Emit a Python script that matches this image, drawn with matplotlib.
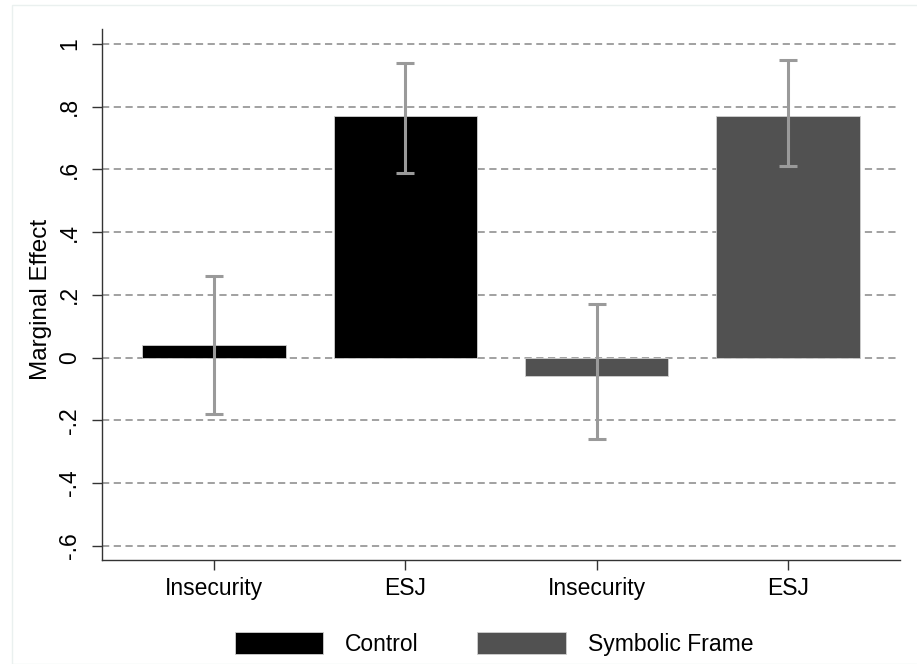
import matplotlib.pyplot as plt
from matplotlib.patches import Patch, Rectangle

plt.rcParams['font.family'] = ['Liberation Sans', 'DejaVu Sans']

categories = ['Insecurity', 'ESJ', 'Insecurity', 'ESJ']
groups = ['Control', 'Control', 'Symbolic Frame', 'Symbolic Frame']
effects = [0.04, 0.77, -0.06, 0.77]
ci_low = [-0.18, 0.59, -0.26, 0.61]
ci_high = [0.26, 0.94, 0.17, 0.95]
yticks = [-0.6, -0.4, -0.2, 0, 0.2, 0.4, 0.6, 0.8, 1]
ytick_labels = ['-.6', '-.4', '-.2', '0', '.2', '.4', '.6', '.8', '1']

group_colors = {'Control': '#000000', 'Symbolic Frame': '#515151'}

fig = plt.figure(figsize=(9.17, 6.64), dpi=100)
# faint outer region frame
fig.patches.append(Rectangle((12 / 917, 0), 1, 1 - 5 / 664, transform=fig.transFigure,
                             fill=False, edgecolor='#eaf0ef', linewidth=1))
ax = fig.add_axes([102 / 917, 104 / 664, 798 / 917, 531 / 664])

x = list(range(1, len(effects) + 1))
colors = [group_colors[g] for g in groups]
ax.bar(x, effects, width=0.75, color=colors, edgecolor='#d0d0d0', linewidth=0.6, zorder=2)

yerr = [[e - lo for e, lo in zip(effects, ci_low)], [hi - e for e, hi in zip(effects, ci_high)]]
ax.errorbar(x, effects, yerr=yerr, fmt='none', ecolor='#9a9a9a', elinewidth=2.2,
            capsize=6.5, capthick=2.2, zorder=3)

ax.set_xlim(0.415, 4.585)
ax.set_ylim(-0.6455, 1.048)
ax.set_yticks(yticks)
ax.set_yticklabels(ytick_labels, rotation=90, va='center')
ax.set_xticks(x)
ax.set_xticklabels(categories)
ax.tick_params(axis='both', labelsize=16.5, direction='out', length=7, width=1, colors='#333333',
               labelcolor='black')
ax.tick_params(axis='y', pad=8)
ax.tick_params(axis='x', pad=5)
ax.yaxis.grid(True, linestyle=(0, (4, 2.5)), color='#9a9a9a', linewidth=1.3, zorder=1)
ax.set_axisbelow(True)

for side in ['top', 'right']:
    ax.spines[side].set_visible(False)
for side in ['left', 'bottom']:
    ax.spines[side].set_color('#333333')
    ax.spines[side].set_linewidth(1)

ax.set_ylabel('Marginal Effect', fontsize=17.5)
ax.yaxis.set_label_coords(-50 / 798, 0.49)

handles = [Patch(facecolor=c, edgecolor='#d0d0d0', linewidth=0.6) for c in group_colors.values()]
fig.legend(handles, list(group_colors.keys()), loc='center', bbox_to_anchor=(494 / 917, 20 / 664),
           ncol=2, frameon=False, fontsize=16.5, handlelength=3.85, handleheight=1.1,
           columnspacing=2.55, handletextpad=0.96, borderaxespad=0, borderpad=0)

fig.savefig('out.png', dpi=100)
